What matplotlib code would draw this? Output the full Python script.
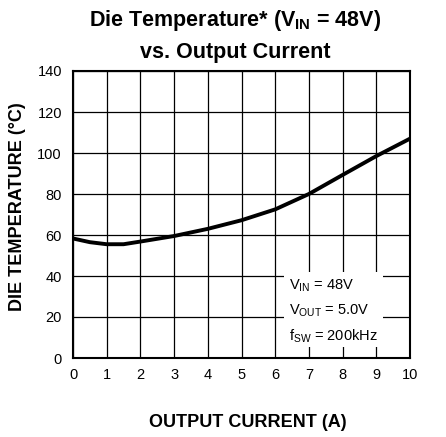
import numpy as np
import matplotlib
matplotlib.use("Agg")
import matplotlib.pyplot as plt
from matplotlib.patches import Rectangle

plt.rcParams["font.family"] = ["Liberation Sans", "DejaVu Sans"]
plt.rcParams["mathtext.fontset"] = "custom"
plt.rcParams["mathtext.rm"] = "Liberation Sans"
plt.rcParams["mathtext.bf"] = "Liberation Sans:bold"
plt.rcParams["mathtext.default"] = "regular"

current = [0, 0.5, 1, 1.5, 2, 3, 4, 5, 6, 7, 8, 9, 10]
temperature = [58.3, 56.5, 55.5, 55.5, 56.8, 59.5, 63, 67.2, 72.5, 80, 89.3, 98.5, 107]

x_ticks = list(range(0, 11))
y_ticks = list(range(0, 141, 20))
notes = ["V$_{IN}$ = 48V", "V$_{OUT}$ = 5.0V", "f$_{SW}$ = 200kHz"]

W, H = 446, 437
f = plt.figure(figsize=(W / 100, H / 100), dpi=100)
ax = f.add_axes([73 / W, 1 - 358 / H, 337 / W, 287 / H])

ax.plot(current, temperature, color="black", lw=2.8, zorder=3)
ax.set_xlim(0, 10)
ax.set_ylim(0, 140)
ax.set_xticks(x_ticks)
ax.set_yticks(y_ticks)
ax.tick_params(axis="y", length=0, labelsize=10.5, pad=8)
ax.tick_params(axis="x", length=0, labelsize=10.5, pad=7)
ax.grid(True, color="black", lw=0.9)
for s in ax.spines.values():
    s.set_linewidth(1.5)
    s.set_zorder(5)

# white box behind the conditions
ax.add_patch(Rectangle((6.25, 5.5), 2.95, 36.5, fc="white", ec="none", zorder=4))
for i, t in enumerate(notes):
    ax.text(6.4, 35 - 12.2 * i, t, fontsize=10.5, va="center", ha="left", zorder=5)

f.text(0.556, 0.034, "OUTPUT CURRENT (A)", fontsize=13, fontweight="bold",
       ha="center", va="center")
f.text(0.040, 0.5275, "DIE TEMPERATURE (°C)", fontsize=13, fontweight="bold",
       ha="center", va="center", rotation=90)
f.text(0.527, 0.9412, r"Die Temperature* ($\mathbf{V_{IN}}$ = 48V)", ha="center",
       va="baseline", fontsize=15.5, fontweight="bold")
f.text(0.527, 0.8684, "vs. Output Current", ha="center", va="baseline",
       fontsize=15.5, fontweight="bold")

f.savefig("out.png", dpi=100)
plt.close(f)
